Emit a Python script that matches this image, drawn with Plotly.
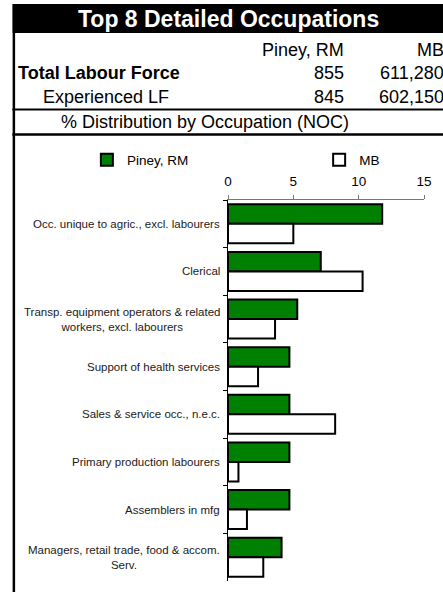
import plotly.graph_objects as go

# ---------------- data ----------------
title_text = "Top 8 Detailed Occupations"
area_names = ["Piney, RM", "MB"]
row_labels = ["Total Labour Force", "Experienced LF"]
total_lf = ["855", "611,280"]
experienced_lf = ["845", "602,150"]
subtitle = "% Distribution by Occupation (NOC)"

categories = [
    "Occ. unique to agric., excl. labourers",
    "Clerical",
    "Transp. equipment operators & related<br>workers, excl. labourers",
    "Support of health services",
    "Sales & service occ., n.e.c.",
    "Primary production labourers",
    "Assemblers in mfg",
    "Managers, retail trade, food & accom.<br>Serv.",
]
piney_pct = [11.8, 7.1, 5.3, 4.7, 4.7, 4.7, 4.7, 4.1]
mb_pct = [5.0, 10.3, 3.6, 2.3, 8.2, 0.8, 1.45, 2.7]
x_ticks = [0, 5, 10, 15]

# ---------------- layout geometry ----------------
W, H = 443, 592
ML, MR, MT, MB = 228, 15, 200, 11
PW = W - ML - MR
PH = H - MT - MB
FONT = "Liberation Sans, Arial, Helvetica, sans-serif"


def px(x):
    return (x - ML) / PW


def py(y):
    return (H - MB - y) / PH


fig = go.Figure()
fig.add_trace(go.Bar(
    y=categories, x=piney_pct, orientation="h", name=area_names[0],
    marker=dict(color="#008000", line=dict(color="black", width=2)),
    legend="legend",
))
fig.add_trace(go.Bar(
    y=categories, x=mb_pct, orientation="h", name=area_names[1],
    marker=dict(color="white", line=dict(color="black", width=2)),
    legend="legend2",
))

shapes = [
    # title band
    dict(type="rect", xref="paper", yref="paper", x0=px(8), x1=px(450),
         y0=py(33), y1=py(4), fillcolor="black", line=dict(width=0)),
    # left border
    dict(type="line", xref="paper", yref="paper", x0=px(9.5), x1=px(9.5),
         y0=py(33), y1=py(600), line=dict(color="black", width=2.5)),
    # separators
    dict(type="line", xref="paper", yref="paper", x0=px(8), x1=px(450),
         y0=py(109.5), y1=py(109.5), line=dict(color="black", width=2)),
    dict(type="line", xref="paper", yref="paper", x0=px(8), x1=px(450),
         y0=py(134.5), y1=py(134.5), line=dict(color="black", width=2.5)),
]

ann = []


def text(t, x, y, anchor, size=18, bold=False, color="black", align="left"):
    if bold:
        t = "<b>" + t + "</b>"
    ann.append(dict(text=t, x=px(x), y=py(y), xref="paper", yref="paper",
                    xanchor=anchor, yanchor="middle", showarrow=False,
                    align=align, borderpad=0,
                    font=dict(family=FONT, size=size, color=color)))


text(title_text, 229, 19, "center", size=23, bold=True, color="white")
col_right = [347, 449]
for i, name in enumerate(area_names):
    text(name, col_right[i], 50, "right")
    text(total_lf[i], col_right[i], 73, "right")
    text(experienced_lf[i], col_right[i], 97, "right")
text(row_labels[0], 13, 73, "left", bold=True)
text(row_labels[1], 38, 97, "left")
text(subtitle, 205, 122, "center")

# category labels (centred multi-line, right-anchored next to axis)
for c in categories:
    ann.append(dict(text=c, x=0, y=c, xref="paper", yref="y",
                    xanchor="right", yanchor="middle", xshift=-7,
                    showarrow=False, align="center", borderpad=0,
                    font=dict(family=FONT, size=11.5, color="#1a1a1a")))

fig.update_layout(
    width=W, height=H,
    margin=dict(l=ML, r=MR, t=MT, b=MB, pad=0),
    paper_bgcolor="white", plot_bgcolor="white",
    barmode="group", bargap=0.18, bargroupgap=0,
    font=dict(family=FONT, size=13.5, color="black"),
    shapes=shapes, annotations=ann,
    showlegend=True,
    legend=dict(orientation="h", x=px(84), y=py(160), xanchor="left",
                yanchor="middle", bgcolor="rgba(0,0,0,0)", borderwidth=0,
                font=dict(family=FONT, size=13.5, color="black")),
    legend2=dict(orientation="h", x=px(321), y=py(160), xanchor="left",
                 yanchor="middle", bgcolor="rgba(0,0,0,0)", borderwidth=0,
                 font=dict(family=FONT, size=13.5, color="black")),
    xaxis=dict(side="top", range=[0, 15], tickvals=x_ticks,
               ticktext=[str(v) for v in x_ticks],
               showline=True, linecolor="#777777", linewidth=1,
               ticks="outside", ticklen=4, tickcolor="#777777",
               showgrid=False, zeroline=False, ticklabelstandoff=4,
               tickfont=dict(family=FONT, size=13.5, color="black")),
    yaxis=dict(autorange="reversed", showline=True, linecolor="black",
               linewidth=1, ticks="outside", ticklen=4, tickcolor="black",
               tickson="boundaries", showticklabels=False, showgrid=False,
               zeroline=False),
)

fig.write_html(
    "out.html",
    config={"displayModeBar": False},
    post_script="document.body.style.margin='0';"
                "document.body.style.overflow='hidden';",
)
